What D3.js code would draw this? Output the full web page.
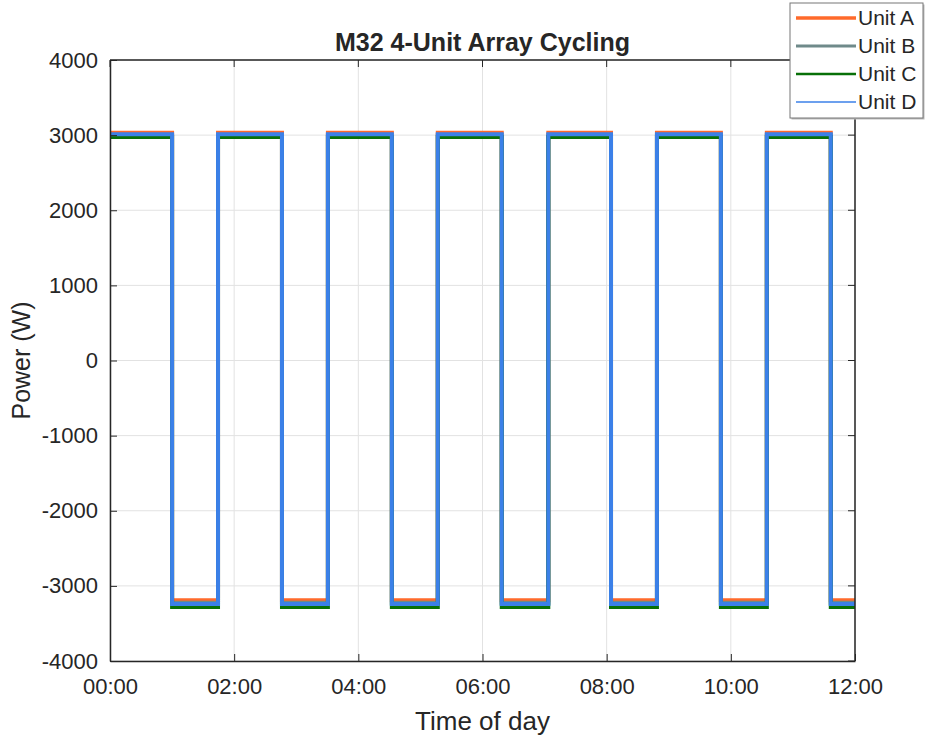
<!DOCTYPE html>
<html>
<head>
<meta charset="utf-8">
<script src="https://cdn.jsdelivr.net/npm/d3@7"></script>
<style>
  html, body { margin: 0; padding: 0; background: #fff; }
  svg text { font-family: "Liberation Sans", Arial, sans-serif; fill: #262626; }
</style>
</head>
<body>
<div id="app"></div>
<script>
// hours at which all units switch: charge -> discharge -> charge ...
const switchHours = [1.0, 1.74, 2.77, 3.51, 4.54, 5.28, 6.31, 7.06, 8.07, 8.81, 9.84, 10.58, 11.61];
const endHour = 12;

const units = ['Unit A', 'Unit B', 'Unit C', 'Unit D'];
const highPower = [3030, 3000, 2975, 3012];
const lowPower  = [-3190, -3225, -3280, -3240];
const unitColors = ['#ff6a2b', '#6f8a8a', '#087008', '#3b80e8'];
const legendWidths = [3.5, 3, 2.5, 1.5];

const yTicks = [-4000, -3000, -2000, -1000, 0, 1000, 2000, 3000, 4000];

const W = 925, H = 740;
const margin = { top: 60, right: 70, bottom: 79, left: 110 };

const day = h => new Date(Date.UTC(2000, 0, 1) + h * 3600e3);

const svg = d3.select('#app').append('svg')
  .attr('width', W)
  .attr('height', H);

const x = d3.scaleUtc()
  .domain([day(0), day(endHour)])
  .range([margin.left, W - margin.right]);

const y = d3.scaleLinear()
  .domain([-4000, 4000])
  .range([H - margin.bottom, margin.top]);

// grid
const grid = svg.append('g').attr('stroke', '#e2e2e2').attr('stroke-width', 1);
grid.selectAll('.gy').data(yTicks).enter().append('line')
  .attr('x1', margin.left).attr('x2', W - margin.right)
  .attr('y1', d => y(d)).attr('y2', d => y(d));
grid.selectAll('.gx').data(x.ticks(d3.utcHour.every(2))).enter().append('line')
  .attr('y1', margin.top).attr('y2', H - margin.bottom)
  .attr('x1', d => x(d)).attr('x2', d => x(d));

// series
const buildSeries = i => {
  const pts = [];
  let level = highPower[i];
  pts.push([0, level]);
  switchHours.forEach(s => {
    pts.push([s, level]);
    level = level === highPower[i] ? lowPower[i] : highPower[i];
    pts.push([s, level]);
  });
  pts.push([endHour, level]);
  return pts;
};

const line = d3.line()
  .x(d => x(day(d[0])))
  .y(d => y(d[1]));

const plot = svg.append('g');
units.forEach((u, i) => {
  plot.append('path')
    .datum(buildSeries(i))
    .attr('fill', 'none')
    .attr('stroke', unitColors[i])
    .attr('stroke-width', 4)
    .attr('d', line);
});

// axes (ticks point inward, MATLAB style)
const xAxis = d3.axisBottom(x)
  .ticks(d3.utcHour.every(2))
  .tickFormat(d3.utcFormat('%H:%M'))
  .tickSizeInner(-7).tickSizeOuter(0).tickPadding(17);
const yAxis = d3.axisLeft(y)
  .tickValues(yTicks)
  .tickFormat(d => String(d))
  .tickSizeInner(-7).tickSizeOuter(0).tickPadding(12);

const styleAxis = g => {
  g.select('.domain').attr('stroke', '#262626').attr('stroke-width', 1.5);
  g.selectAll('.tick line').attr('stroke', '#262626');
  g.selectAll('.tick text').attr('font-size', 22).attr('fill', '#333');
};

svg.append('g')
  .attr('transform', `translate(0,${H - margin.bottom})`)
  .call(xAxis).call(styleAxis);
svg.append('g')
  .attr('transform', `translate(${margin.left},0)`)
  .call(yAxis).call(styleAxis);

// box top/right
svg.append('path')
  .attr('d', `M${margin.left},${margin.top}H${W - margin.right}V${H - margin.bottom}`)
  .attr('fill', 'none').attr('stroke', '#262626').attr('stroke-width', 1.5);
svg.append('g').selectAll('line').data(yTicks).enter().append('line')
  .attr('x1', W - margin.right).attr('x2', W - margin.right - 7)
  .attr('y1', d => y(d)).attr('y2', d => y(d))
  .attr('stroke', '#262626');
svg.append('g').selectAll('line').data(x.ticks(d3.utcHour.every(2))).enter().append('line')
  .attr('y1', margin.top).attr('y2', margin.top + 7)
  .attr('x1', d => x(d)).attr('x2', d => x(d))
  .attr('stroke', '#262626');

// labels
svg.append('text')
  .attr('x', (margin.left + W - margin.right) / 2).attr('y', 51)
  .attr('text-anchor', 'middle')
  .attr('font-size', 25).attr('font-weight', 'bold').attr('fill', '#000')
  .text('M32 4-Unit Array Cycling');
svg.append('text')
  .attr('x', (margin.left + W - margin.right) / 2).attr('y', 730)
  .attr('text-anchor', 'middle')
  .attr('font-size', 26)
  .text('Time of day');
svg.append('text')
  .attr('transform', `translate(30,${(margin.top + H - margin.bottom) / 2}) rotate(-90)`)
  .attr('text-anchor', 'middle')
  .attr('font-size', 25)
  .text('Power (W)');

// legend
const lg = svg.append('g').attr('transform', 'translate(790,3)');
lg.append('rect')
  .attr('x', 1.5).attr('y', 1.5)
  .attr('width', 133).attr('height', 115)
  .attr('fill', '#bbb');
lg.append('rect')
  .attr('width', 133).attr('height', 115)
  .attr('fill', '#fff').attr('stroke', '#777').attr('stroke-width', 1);
units.forEach((u, i) => {
  const ly = 15 + i * 28;
  lg.append('line')
    .attr('x1', 6).attr('x2', 66).attr('y1', ly).attr('y2', ly)
    .attr('stroke', unitColors[i]).attr('stroke-width', legendWidths[i]);
  lg.append('text')
    .attr('x', 68).attr('y', ly + 7)
    .attr('font-size', 21).attr('fill', '#000')
    .text(u);
});
</script>
</body>
</html>
